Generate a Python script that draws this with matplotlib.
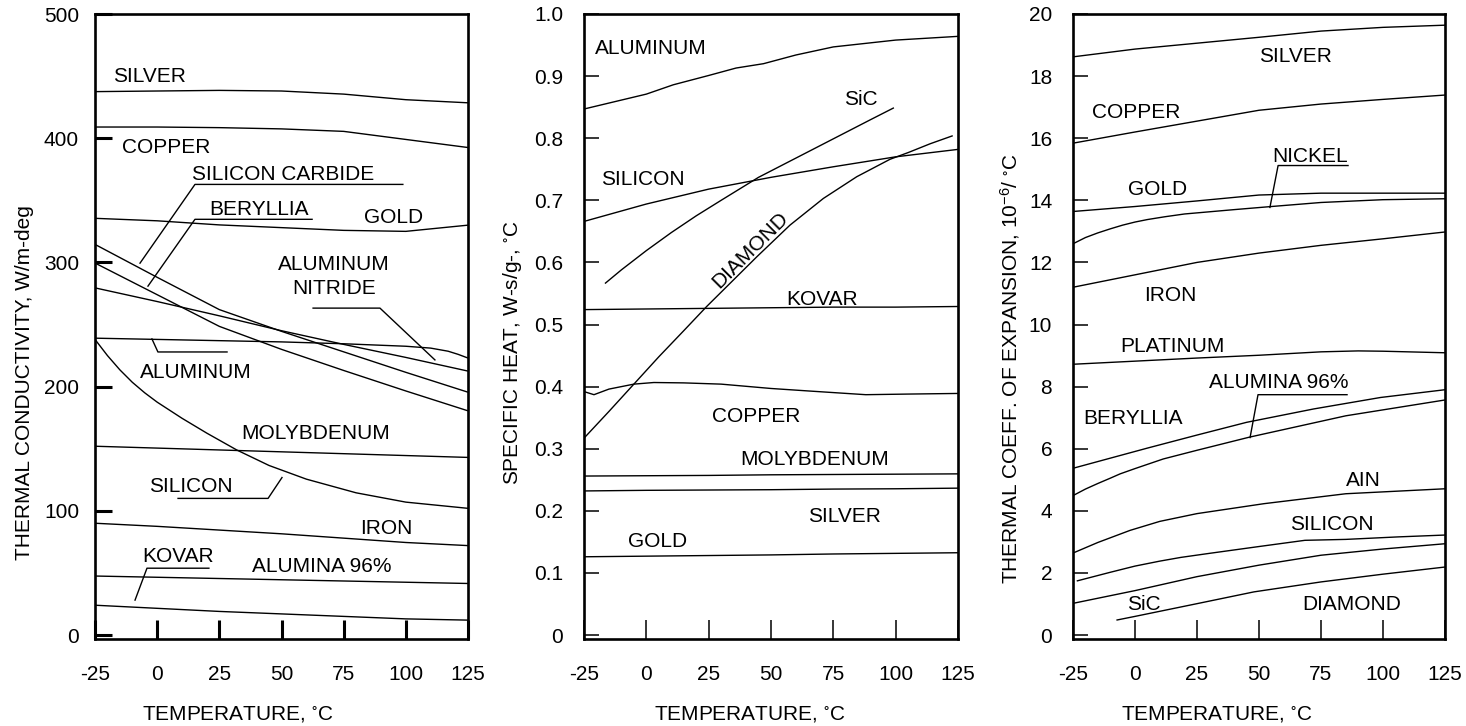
import matplotlib
matplotlib.use("Agg")
import matplotlib.pyplot as plt
from matplotlib.transforms import ScaledTranslation

plt.rcParams['font.family'] = ['Liberation Sans', 'DejaVu Sans']
plt.rcParams['mathtext.fontset'] = 'custom'
plt.rcParams['mathtext.rm'] = 'Liberation Sans'
plt.rcParams['mathtext.it'] = 'Liberation Sans'
plt.rcParams['mathtext.default'] = 'regular'

# ------------------------------------------------------------------ data
temps = [-25, 0, 25, 50, 75, 100, 125]
xticks = [-25, 0, 25, 50, 75, 100, 125]

# Panel 1 : thermal conductivity, W/m-deg
k_silver = [437.5, 438, 438.5, 438, 435.5, 431, 428.5]
k_copper = [409, 409, 408.5, 407.5, 405.5, 399, 392.5]
k_gold = [335.5, 333.5, 330.2, 328, 325.8, 325, 330]
k_sic = [314.5, 288, 262, 244.5, 228, 211.5, 195.5]
k_beryllia = [299.5, 274, 248.5, 230, 213, 196.5, 180.5]
k_aln = [279.5, 268.5, 257, 245, 234, 223.5, 212.5]
k_al_temp = [-25, 0, 25, 50, 75, 100, 110, 117, 121, 125]
k_aluminum = [239, 238, 237, 236, 234.5, 232.5, 231, 228.5, 226, 223]
k_si_temp = [-25, -20, -15, -10, -5, 0, 10, 20, 32, 45, 60, 80, 100, 125]
k_silicon = [238, 225, 213.5, 203.5, 195, 187.5, 174.5, 162.5, 149, 136.5, 125.5, 114.5, 107, 102]
k_molybdenum = [152, 150.5, 149, 147.5, 146, 144.5, 143]
k_iron = [90, 87.5, 84.5, 81.5, 78, 74.5, 72]
k_alumina = [47.5, 46.5, 45.5, 44.5, 43.5, 42.5, 41.5]
k_kovar = [24, 21.5, 19, 17, 15, 13, 12]

# Panel 2 : specific heat, W-s/g-C
c_al_temp = [-25, 0, 10.8, 25, 36, 47, 60, 75, 100, 125]
c_aluminum = [0.847, 0.871, 0.886, 0.901, 0.913, 0.920, 0.934, 0.947, 0.958, 0.964]
c_sic_temp = [-16.6, -10, 0, 10, 20, 30, 45, 60, 75, 90, 99.3]
c_sic = [0.566, 0.588, 0.619, 0.648, 0.675, 0.700, 0.737, 0.768, 0.799, 0.830, 0.849]
c_silicon = [0.666, 0.694, 0.718, 0.737, 0.754, 0.770, 0.782]
c_dia_temp = [-25, -15, -5, 5, 15, 24.2, 44.3, 57.6, 71, 84.4, 97.7, 105.1, 113.8, 122.9]
c_diamond = [0.317, 0.360, 0.404, 0.448, 0.490, 0.529, 0.609, 0.660, 0.703, 0.738, 0.766, 0.777, 0.791, 0.804]
c_kovar = [0.524, 0.525, 0.526, 0.527, 0.528, 0.528, 0.529]
c_cu_temp = [-25, -21, -15, -5, 3, 15, 30, 50, 65, 88, 105, 125]
c_copper = [0.392, 0.387, 0.396, 0.404, 0.4066, 0.406, 0.404, 0.397, 0.393, 0.387, 0.388, 0.389]
c_molybdenum = [0.256, 0.2565, 0.257, 0.258, 0.2585, 0.259, 0.2595]
c_silver = [0.232, 0.233, 0.2335, 0.234, 0.235, 0.2355, 0.2365]
c_gold = [0.126, 0.127, 0.128, 0.129, 0.1305, 0.1315, 0.1325]

# Panel 3 : thermal coefficient of expansion, 1e-6/C
e_silver = [18.62, 18.87, 19.06, 19.25, 19.45, 19.57, 19.64]
e_copper = [15.84, 16.2, 16.55, 16.9, 17.1, 17.25, 17.39]
e_gold = [13.64, 13.8, 13.98, 14.17, 14.23, 14.23, 14.23]
e_ni_temp = [-25, -20, -15, -10, -5, 0, 5, 12, 20, 30, 40, 55, 75, 100, 125]
e_nickel = [12.6, 12.8, 12.95, 13.08, 13.2, 13.3, 13.38, 13.47, 13.56, 13.63, 13.7, 13.8, 13.93, 14.02, 14.05]
e_iron = [11.2, 11.6, 12.0, 12.3, 12.55, 12.76, 12.98]
e_pt_temp = [-25, 0, 25, 50, 75, 90, 100, 125]
e_platinum = [8.72, 8.82, 8.92, 9.01, 9.12, 9.15, 9.14, 9.09]
e_be_temp = [-25, 5, 25, 45, 72, 99, 125]
e_beryllia = [5.37, 6.02, 6.44, 6.85, 7.28, 7.65, 7.9]
e_alu_temp = [-25, -20, -15, -10, -6, 0, 11.4, 25, 46, 85, 125]
e_alumina = [4.49, 4.70, 4.88, 5.05, 5.19, 5.36, 5.67, 5.95, 6.37, 7.06, 7.57]
e_aln_temp = [-25, -15, -2, 10, 25, 52, 85, 125]
e_aln = [2.64, 2.98, 3.37, 3.66, 3.91, 4.23, 4.55, 4.71]
e_si_temp = [-23.5, -10, 0, 10, 18.5, 30, 50, 68.5, 85, 106, 125]
e_silicon = [1.74, 2.02, 2.22, 2.38, 2.50, 2.63, 2.85, 3.05, 3.08, 3.16, 3.22]
e_sic = [1.02, 1.43, 1.88, 2.25, 2.57, 2.77, 2.94]
e_dia_temp = [-7.5, 0, 25, 48, 75, 100, 125]
e_diamond = [0.48, 0.60, 1.01, 1.39, 1.71, 1.96, 2.19]

# ------------------------------------------------------------------ figure
W, H = 1466, 726
fig = plt.figure(figsize=(W / 100, H / 100), dpi=100)
FS = 15
LW = 1.0

def fx(px):
    return px / W

def fy(py):
    return 1 - py / H

bottom = fy(639)
height = (639 - 14) / H
ax1 = fig.add_axes([fx(95), bottom, (468 - 95) / W, height])
ax2 = fig.add_axes([fx(584), bottom, (958 - 584) / W, height])
ax3 = fig.add_axes([fx(1073), bottom, (1445 - 1073) / W, height])

shift = ScaledTranslation(0, -0.075, fig.dpi_scale_trans)


def setup(ax, ymax, yticks, yticklabels, ylen, xlen, width, ypad):
    ax.set_xlim(-25, 125)
    ax.set_ylim(-0.0064 * ymax, ymax)
    ax.set_xticks(xticks)
    ax.set_xticklabels([str(t) for t in xticks])
    ax.set_yticks(yticks)
    ax.set_yticklabels(yticklabels)
    for s in ax.spines.values():
        s.set_linewidth(1.9)
    ax.tick_params(axis='y', direction='in', length=ylen, width=width,
                   labelsize=FS, pad=ypad, colors='black')
    ax.tick_params(axis='x', direction='in', length=xlen, width=width,
                   labelsize=FS, pad=18.5, colors='black')


def label(ax, x, y, s, ha='left', **kw):
    ax.text(x, y, s, fontsize=FS, ha=ha, va='baseline',
            transform=ax.transData + shift, **kw)


def leader(ax, xs, ys):
    ax.plot(xs, ys, color='black', lw=LW, clip_on=False)


def curve(ax, x, y):
    ax.plot(x, y, color='black', lw=LW, solid_capstyle='butt',
            solid_joinstyle='round')


# ---------------- panel 1
setup(ax1, 500, [0, 100, 200, 300, 400, 500], ['0', '100', '200', '300', '400', '500'],
      12, 14, 2.2, 11.5)
for ser in [k_silver, k_copper, k_gold, k_sic, k_beryllia, k_aln,
            k_molybdenum, k_iron, k_alumina, k_kovar]:
    curve(ax1, temps, ser)
curve(ax1, k_al_temp, k_aluminum)
curve(ax1, k_si_temp, k_silicon)

label(ax1, -17.8, 451, 'SILVER')
label(ax1, -14.1, 394, 'COPPER')
label(ax1, 14.0, 372.4, 'SILICON CARBIDE')
label(ax1, 20.8, 344.3, 'BERYLLIA')
label(ax1, 83.2, 337.9, 'GOLD')
label(ax1, 71.1, 300.2, 'ALUMINUM', ha='center')
label(ax1, 71.1, 280.9, 'NITRIDE', ha='center')
label(ax1, -6.9, 212.7, 'ALUMINUM')
label(ax1, 33.7, 163.7, 'MOLYBDENUM')
label(ax1, -3.3, 121.2, 'SILICON')
label(ax1, 81.6, 87.5, 'IRON')
label(ax1, -6.1, 65, 'KOVAR')
label(ax1, 38.1, 57, 'ALUMINA 96%')

leader(ax1, [98.8, 15.2, -6.9], [362.8, 362.8, 299.4])
leader(ax1, [62.3, 15.2, -3.7], [334.7, 334.7, 280.9])
leader(ax1, [62.7, 89.6, 111.7], [263.2, 263.2, 221.5])
leader(ax1, [-2.1, 0.3, 28.1], [238.4, 227.9, 227.9])
leader(ax1, [8.4, 44.6, 50.2], [110, 110, 126.8])
leader(ax1, [20.8, -4.1, -8.9], [53.8, 53.8, 28.1])

# ---------------- panel 2
c_ticks = [0, 0.1, 0.2, 0.3, 0.4, 0.5, 0.6, 0.7, 0.8, 0.9, 1.0]
setup(ax2, 1.0, c_ticks, ['0'] + ['%.1f' % t for t in c_ticks[1:]],
      10.8, 14, 1.1, 15)
curve(ax2, c_al_temp, c_aluminum)
curve(ax2, c_sic_temp, c_sic)
curve(ax2, temps, c_silicon)
curve(ax2, c_dia_temp, c_diamond)
curve(ax2, temps, c_kovar)
curve(ax2, c_cu_temp, c_copper)
curve(ax2, temps, c_molybdenum)
curve(ax2, temps, c_silver)
curve(ax2, temps, c_gold)

label(ax2, -20.6, 0.947, 'ALUMINUM')
label(ax2, 79.3, 0.865, 'SiC')
label(ax2, -18.2, 0.737, 'SILICON')
ax2.text(41.6, 0.620, 'DIAMOND', fontsize=FS, rotation=45, rotation_mode='anchor',
         ha='center', va='center')
label(ax2, 56, 0.544, 'KOVAR')
label(ax2, 26.3, 0.355, 'COPPER')
label(ax2, 37.6, 0.286, 'MOLYBDENUM')
label(ax2, 64.9, 0.194, 'SILVER')
label(ax2, -7.4, 0.154, 'GOLD')

# ---------------- panel 3
e_ticks = [0, 2, 4, 6, 8, 10, 12, 14, 16, 18, 20]
setup(ax3, 20, e_ticks, [str(t) for t in e_ticks], 10.8, 14, 1.1, 15)
for ser in [e_silver, e_copper, e_gold, e_iron, e_sic]:
    curve(ax3, temps, ser)
curve(ax3, e_ni_temp, e_nickel)
curve(ax3, e_pt_temp, e_platinum)
curve(ax3, e_be_temp, e_beryllia)
curve(ax3, e_alu_temp, e_alumina)
curve(ax3, e_aln_temp, e_aln)
curve(ax3, e_si_temp, e_silicon)
curve(ax3, e_dia_temp, e_diamond)

label(ax3, 50, 18.68, 'SILVER')
label(ax3, -17.3, 16.89, 'COPPER')
label(ax3, 55.2, 15.47, 'NICKEL')
label(ax3, -2.8, 14.41, 'GOLD')
label(ax3, 3.6, 11.01, 'IRON')
label(ax3, -6.0, 9.37, 'PLATINUM')
label(ax3, 29.8, 8.19, 'ALUMINA 96%')
label(ax3, -21, 7.03, 'BERYLLIA')
label(ax3, 85.1, 5.04, 'AIN')
label(ax3, 62.5, 3.63, 'SILICON')
label(ax3, -3.2, 1.06, 'SiC')
label(ax3, 67.3, 1.06, 'DIAMOND')

leader(ax3, [85.9, 57.7, 54.4], [15.12, 15.12, 13.77])
leader(ax3, [85.5, 49.6, 46.4], [7.74, 7.74, 6.36])

# ---------------- axis titles
xlab_y = fy(720)
for cx in [238, 750, 1217]:
    fig.text(fx(cx), xlab_y, 'TEMPERATURE, $^{\\circ}$C', fontsize=FS,
             ha='center', va='baseline')

fig.text(fx(25), fy(383), 'THERMAL CONDUCTIVITY, W/m-deg', fontsize=FS,
         rotation=90, ha='center', va='center')
fig.text(fx(512), fy(353), 'SPECIFIC HEAT, W-s/g-, $^{\\circ}$C', fontsize=FS,
         rotation=90, ha='center', va='center')
fig.text(fx(1010), fy(369), 'THERMAL COEFF. OF EXPANSION, 10$^{-6}$/ $^{\\circ}$C',
         fontsize=FS, rotation=90, ha='center', va='center')

fig.savefig('out.png', dpi=100, facecolor='white')
